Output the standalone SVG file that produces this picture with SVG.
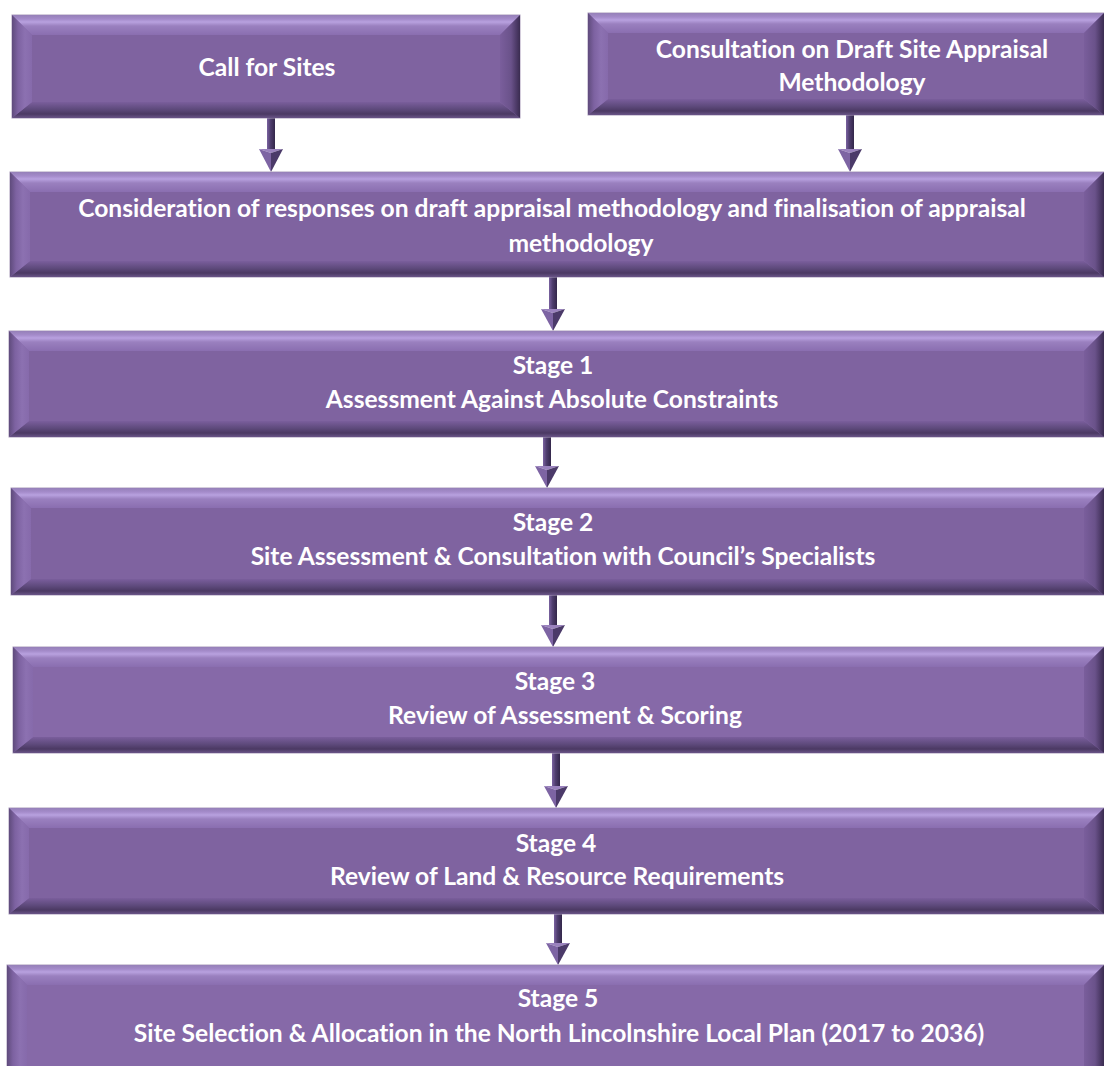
<svg xmlns="http://www.w3.org/2000/svg" width="1104" height="1066" viewBox="0 0 1104 1066">
<defs>
<style>
.base{fill:#8468a8;stroke:#a99cba;stroke-width:1}
.inner{fill:#7f63a0}
.top{fill:url(#gTop)}
.bot{fill:url(#gBot)}
.lft{fill:url(#gLeft)}
.rgt{fill:url(#gRight)}
.t{fill:#ffffff;font-family:Lato,"Liberation Sans",sans-serif;font-weight:bold;font-size:24.6px;text-anchor:middle;font-variant-ligatures:none}
.shaft{fill:url(#gShaft)}
.hl{fill:#7d64a3}
.hr{fill:#4b3a69}
.ht{fill:#9a82be}
</style>
<linearGradient id="gTop" x1="0" y1="0" x2="0" y2="1">
<stop offset="0" stop-color="#9580b8"/>
<stop offset="0.2" stop-color="#a48bca"/>
<stop offset="0.35" stop-color="#b8a1df"/>
<stop offset="0.55" stop-color="#9a80bf"/>
<stop offset="1" stop-color="#8a6eb0"/>
</linearGradient>
<linearGradient id="gBot" x1="0" y1="0" x2="0" y2="1">
<stop offset="0" stop-color="#7a5e9c"/>
<stop offset="0.45" stop-color="#5e4a7c"/>
<stop offset="0.75" stop-color="#4b3963"/>
<stop offset="1" stop-color="#6a5588"/>
</linearGradient>
<linearGradient id="gLeft" x1="0" y1="0" x2="1" y2="0">
<stop offset="0" stop-color="#5f4b7c"/>
<stop offset="0.3" stop-color="#7d62a1"/>
<stop offset="0.65" stop-color="#8c71b1"/>
<stop offset="1" stop-color="#866aab"/>
</linearGradient>
<linearGradient id="gRight" x1="0" y1="0" x2="1" y2="0">
<stop offset="0" stop-color="#7a5e9c"/>
<stop offset="0.55" stop-color="#6a528a"/>
<stop offset="0.85" stop-color="#4a3864"/>
<stop offset="1" stop-color="#3a2c50"/>
</linearGradient>
<linearGradient id="gShaft" x1="0" y1="0" x2="1" y2="0">
<stop offset="0" stop-color="#7a62a0"/>
<stop offset="0.45" stop-color="#4e3d6d"/>
<stop offset="1" stop-color="#33274a"/>
</linearGradient>
</defs>
<rect width="1104" height="1066" fill="#ffffff"/>

<g id="connectors">
<g id="a1"><rect class="shaft" x="267" y="118" width="8" height="32"/><polygon class="ht" points="259,149 283,149 271,153"/><polygon class="hl" points="259,149 271,153 271,172"/><polygon class="hr" points="283,149 271,153 271,172"/></g>
<g id="a2"><rect class="shaft" x="846" y="115" width="8" height="35"/><polygon class="ht" points="838,149 862,149 850,153"/><polygon class="hl" points="838,149 850,153 850,172"/><polygon class="hr" points="862,149 850,153 850,172"/></g>
<g id="a3"><rect class="shaft" x="549" y="276" width="8" height="34"/><polygon class="ht" points="541,309 565,309 553,313"/><polygon class="hl" points="541,309 553,313 553,331"/><polygon class="hr" points="565,309 553,313 553,331"/></g>
<g id="a4"><rect class="shaft" x="543" y="437" width="8" height="30"/><polygon class="ht" points="535,466 559,466 547,470"/><polygon class="hl" points="535,466 547,470 547,488"/><polygon class="hr" points="559,466 547,470 547,488"/></g>
<g id="a5"><rect class="shaft" x="549" y="595" width="8" height="31"/><polygon class="ht" points="541,625 565,625 553,629"/><polygon class="hl" points="541,625 553,629 553,647"/><polygon class="hr" points="565,625 553,629 553,647"/></g>
<g id="a6"><rect class="shaft" x="552" y="753" width="8" height="34"/><polygon class="ht" points="544,786 568,786 556,790"/><polygon class="hl" points="544,786 556,790 556,808"/><polygon class="hr" points="568,786 556,790 556,808"/></g>
<g id="a7"><rect class="shaft" x="554" y="914" width="8" height="30"/><polygon class="ht" points="546,943 570,943 558,947"/><polygon class="hl" points="546,943 558,947 558,965"/><polygon class="hr" points="570,943 558,947 558,965"/></g>
</g>

<g id="n1">
<rect class="base" x="12" y="15" width="508" height="103"/>
<polygon class="top" points="12,15 520,15 500,35 32,35"/>
<polygon class="bot" points="12,118 520,118 500,102 32,102"/>
<polygon class="lft" points="12,15 32,35 32,102 12,118"/>
<polygon class="rgt" points="520,15 500,35 500,102 520,118"/>
<rect class="inner" x="32" y="35" width="468" height="67"/>
<text class="t" x="267" y="76">Call for Sites</text>
</g>

<g id="n2">
<rect class="base" x="588" y="13" width="516" height="102"/>
<polygon class="top" points="588,13 1104,13 1084,33 608,33"/>
<polygon class="bot" points="588,115 1104,115 1084,99 608,99"/>
<polygon class="lft" points="588,13 608,33 608,99 588,115"/>
<polygon class="rgt" points="1104,13 1084,33 1084,99 1104,115"/>
<rect class="inner" x="608" y="33" width="476" height="66"/>
<text class="t" x="852" y="58">Consultation on Draft Site Appraisal</text>
<text class="t" x="852" y="91">Methodology</text>
</g>

<g id="n3">
<rect class="base" x="10" y="172" width="1094" height="105"/>
<polygon class="top" points="10,172 1104,172 1084,192 30,192"/>
<polygon class="bot" points="10,277 1104,277 1084,261 30,261"/>
<polygon class="lft" points="10,172 30,192 30,261 10,277"/>
<polygon class="rgt" points="1104,172 1084,192 1084,261 1104,277"/>
<rect class="inner" x="30" y="192" width="1054" height="69"/>
<text class="t" x="552" y="217">Consideration of responses on draft appraisal methodology and finalisation of appraisal</text>
<text class="t" x="581" y="252">methodology</text>
</g>

<g id="n4">
<rect class="base" x="9" y="331" width="1095" height="106"/>
<polygon class="top" points="9,331 1104,331 1084,351 29,351"/>
<polygon class="bot" points="9,437 1104,437 1084,421 29,421"/>
<polygon class="lft" points="9,331 29,351 29,421 9,437"/>
<polygon class="rgt" points="1104,331 1084,351 1084,421 1104,437"/>
<rect class="inner" x="29" y="351" width="1055" height="70"/>
<text class="t" x="553" y="374">Stage 1</text>
<text class="t" x="552" y="408">Assessment Against Absolute Constraints</text>
</g>

<g id="n5">
<rect class="base" x="11" y="488" width="1093" height="107"/>
<polygon class="top" points="11,488 1104,488 1084,508 31,508"/>
<polygon class="bot" points="11,595 1104,595 1084,579 31,579"/>
<polygon class="lft" points="11,488 31,508 31,579 11,595"/>
<polygon class="rgt" points="1104,488 1084,508 1084,579 1104,595"/>
<rect class="inner" x="31" y="508" width="1053" height="71"/>
<text class="t" x="553" y="531">Stage 2</text>
<text class="t" x="563" y="565">Site Assessment &amp; Consultation with Council’s Specialists</text>
</g>

<g id="n6">
<rect class="base" x="13" y="647" width="1091" height="106"/>
<polygon class="top" points="13,647 1104,647 1084,667 33,667"/>
<polygon class="bot" points="13,753 1104,753 1084,737 33,737"/>
<polygon class="lft" points="13,647 33,667 33,737 13,753"/>
<polygon class="rgt" points="1104,647 1084,667 1084,737 1104,753"/>
<rect x="33" y="667" width="1051" height="70" fill="#8669a8"/>
<text class="t" x="555" y="690">Stage 3</text>
<text class="t" x="565" y="724">Review of Assessment &amp; Scoring</text>
</g>

<g id="n7">
<rect class="base" x="9" y="808" width="1095" height="106"/>
<polygon class="top" points="9,808 1104,808 1084,828 29,828"/>
<polygon class="bot" points="9,914 1104,914 1084,898 29,898"/>
<polygon class="lft" points="9,808 29,828 29,898 9,914"/>
<polygon class="rgt" points="1104,808 1084,828 1084,898 1104,914"/>
<rect class="inner" x="29" y="828" width="1055" height="70"/>
<text class="t" x="556" y="852">Stage 4</text>
<text class="t" x="557" y="885">Review of Land &amp; Resource Requirements</text>
</g>

<g id="n8">
<rect class="base" x="7" y="965" width="1097" height="106"/>
<polygon class="top" points="7,965 1104,965 1084,985 27,985"/>
<polygon class="lft" points="7,965 27,985 27,1066 7,1066"/>
<polygon class="rgt" points="1104,965 1084,985 1084,1066 1104,1066"/>
<rect x="27" y="985" width="1057" height="81" fill="#8669a8"/>
<text class="t" x="558" y="1007">Stage 5</text>
<text class="t" x="559" y="1042">Site Selection &amp; Allocation in the North Lincolnshire Local Plan (2017 to 2036)</text>
</g>
</svg>
